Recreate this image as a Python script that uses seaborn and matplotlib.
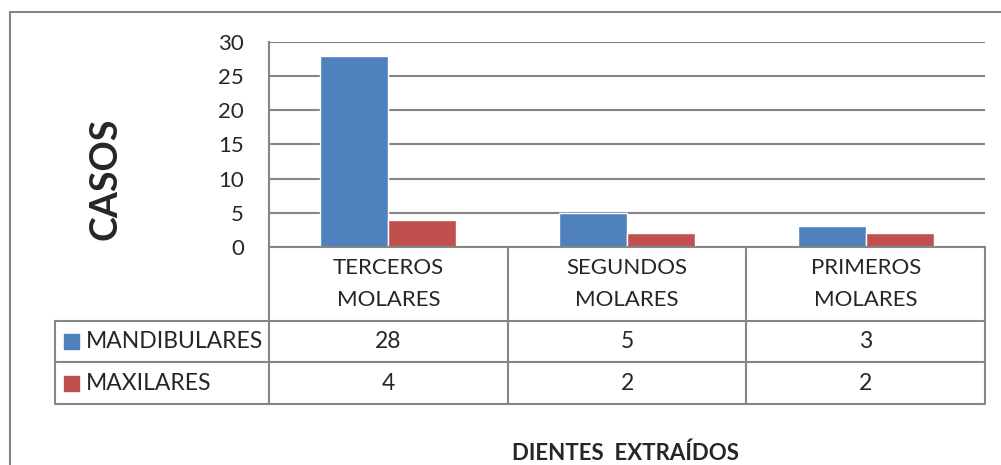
import pandas as pd
import matplotlib.pyplot as plt
import seaborn as sns
from matplotlib.lines import Line2D
from matplotlib.patches import Rectangle

# data
categories = ["TERCEROS\nMOLARES", "SEGUNDOS\nMOLARES", "PRIMEROS\nMOLARES"]
series = ["MANDIBULARES", "MAXILARES"]
mandibulares = [28, 5, 3]
maxilares = [4, 2, 2]
y_ticks = [0, 5, 10, 15, 20, 25, 30]
colors = ["#4F81BD", "#C0504D"]

df = pd.DataFrame({
    "Diente": categories * 2,
    "Serie": [series[0]] * 3 + [series[1]] * 3,
    "Casos": mandibulares + maxilares,
})

sns.set_style("white")
plt.rcParams["font.family"] = ["Lato", "DejaVu Sans"]
grid_col = "#868686"

W, H = 1001, 465
fig = plt.figure(figsize=(W / 100, H / 100), dpi=100)

def fx(px):
    return px / W

def fy(py):
    return 1 - py / H

# outer chart frame (top and left edges visible)
fig.add_artist(Line2D([fx(10), fx(10)], [fy(12), 0], color=grid_col, lw=1.5))
fig.add_artist(Line2D([fx(10), 1], [fy(12), fy(12)], color=grid_col, lw=1.5))

x0, x1 = 269, 985
y_top, y_base = 42, 247
ax = fig.add_axes([fx(x0), fy(y_base), fx(x1) - fx(x0), fy(y_top) - fy(y_base)])

sns.barplot(data=df, x="Diente", y="Casos", hue="Serie", palette=colors,
            width=0.57, ax=ax, legend=False, saturation=1)
ax.set_ylim(0, 30)
ax.set_xlim(-0.5, 2.5)
ax.set_yticks(y_ticks)
ax.set_yticklabels([str(t) for t in y_ticks], fontsize=16)
ax.tick_params(axis="y", length=0, pad=18)
ax.set_xticks([])
ax.set_xlabel("")
ax.set_ylabel("")
for t in y_ticks:
    ax.axhline(t, color=grid_col, lw=1.5, zorder=0)
for s in ["top", "right", "bottom"]:
    ax.spines[s].set_visible(False)
ax.spines["left"].set_color(grid_col)
ax.spines["left"].set_linewidth(1.5)
ax.patch.set_alpha(0)

# data table under the plot
col_edges = [x0, x0 + (x1 - x0) / 3, x0 + 2 * (x1 - x0) / 3, x1]
row_edges = [247, 321, 362, 404]
tl = 55
lw = 1.5
# vertical lines
for x in col_edges:
    fig.add_artist(Line2D([fx(x)] * 2, [fy(row_edges[0]), fy(row_edges[-1])], color=grid_col, lw=lw))
fig.add_artist(Line2D([fx(tl)] * 2, [fy(row_edges[1]), fy(row_edges[-1])], color=grid_col, lw=lw))
# horizontal lines
for i, y in enumerate(row_edges):
    start = x0 if i == 0 else tl
    fig.add_artist(Line2D([fx(start), fx(x1)], [fy(y)] * 2, color=grid_col, lw=lw))

# header cells
for j, cat in enumerate(categories):
    cx = (col_edges[j] + col_edges[j + 1]) / 2
    cy = (row_edges[0] + row_edges[1]) / 2
    fig.text(fx(cx), fy(cy), cat, ha="center", va="center", fontsize=16, linespacing=1.75)

# series rows
for i, (name, vals) in enumerate(zip(series, [mandibulares, maxilares])):
    cy = (row_edges[i + 1] + row_edges[i + 2]) / 2
    fig.add_artist(Rectangle((fx(64), fy(cy + 7.5)), fx(15), fy(0) - fy(15), color=colors[i]))
    fig.text(fx(86), fy(cy), name, ha="left", va="center", fontsize=16.5)
    for j, v in enumerate(vals):
        cx = (col_edges[j] + col_edges[j + 1]) / 2
        fig.text(fx(cx), fy(cy), str(v), ha="center", va="center", fontsize=16.5)

# axis titles
fig.text(fx(105), fy(179), "CASOS", rotation=90, ha="center", va="center",
         fontsize=27, fontweight="bold")
fig.text(fx(625), fy(453), "DIENTES  EXTRAÍDOS", ha="center", va="center",
         fontsize=16, fontweight="bold")

fig.savefig("out.png", dpi=100)
